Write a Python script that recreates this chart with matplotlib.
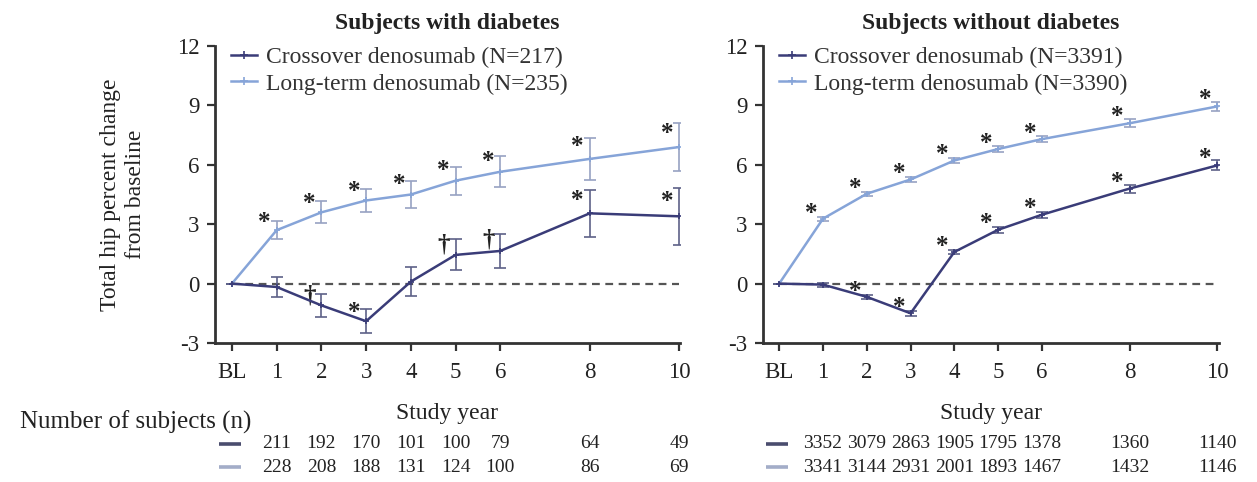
import numpy as np
import matplotlib
matplotlib.use('Agg')
import matplotlib.pyplot as plt
import matplotlib.transforms as mtransforms
from matplotlib.lines import Line2D

plt.rcParams['font.family'] = ['Liberation Serif', 'DejaVu Serif']
plt.rcParams['axes.unicode_minus'] = False

# study years (BL = 0)
years = [0, 1, 2, 3, 4, 5, 6, 8, 10]
year_labels = ['BL', '1', '2', '3', '4', '5', '6', '8', '10']

# subjects with diabetes
dm_cross = [0, -0.17, -1.1, -1.9, 0.1, 1.45, 1.65, 3.55, 3.4]
dm_cross_err = [0, 0.5, 0.6, 0.6, 0.75, 0.78, 0.85, 1.2, 1.45]
dm_cross_sig = ['', '', '†', '*', '', '†', '†', '*', '*']
dm_long = [0, 2.7, 3.6, 4.2, 4.5, 5.2, 5.65, 6.3, 6.9]
dm_long_err = [0, 0.45, 0.55, 0.6, 0.7, 0.7, 0.78, 1.05, 1.2]
dm_long_sig = ['', '*', '*', '*', '*', '*', '*', '*', '*']
dm_n_cross = ['211', '192', '170', '101', '100', '79', '64', '49']
dm_n_long = ['228', '208', '188', '131', '124', '100', '86', '69']

# subjects without diabetes
nd_cross = [0, -0.05, -0.67, -1.5, 1.6, 2.72, 3.48, 4.8, 5.97]
nd_cross_err = [0, 0.1, 0.1, 0.12, 0.12, 0.14, 0.15, 0.2, 0.25]
nd_cross_sig = ['', '', '*', '*', '*', '*', '*', '*', '*']
nd_long = [0, 3.28, 4.54, 5.26, 6.22, 6.8, 7.3, 8.1, 8.95]
nd_long_err = [0, 0.1, 0.1, 0.12, 0.12, 0.14, 0.15, 0.2, 0.25]
nd_long_sig = ['', '*', '*', '*', '*', '*', '*', '*', '*']
nd_n_cross = ['3352', '3079', '2863', '1905', '1795', '1378', '1360', '1140']
nd_n_long = ['3341', '3144', '2931', '2001', '1893', '1467', '1432', '1146']

c_cross = '#3a3c78'
c_long = '#86a4d8'
c_axis = '#333333'
c_text = '#222222'

fig = plt.figure(figsize=(12.57, 4.82), dpi=100)
ax1 = fig.add_axes([0.171, 0.2884, 0.370, 0.616])
ax2 = fig.add_axes([0.607, 0.2884, 0.363, 0.616])


def panel(ax, title, cross, cross_err, cross_sig, long, long_err, long_sig,
          n_cross, n_long, N_cross, N_long, xlim):
    ax.hlines(0, years[0], years[-1], colors='#555555', linestyles=(0, (3.5, 2.5)),
              linewidth=1.6, zorder=1)
    ax.errorbar(years, long, yerr=long_err, color=c_long, ecolor='#97a2c2',
                elinewidth=1.2, capsize=4, capthick=1.2, lw=1.8,
                marker='+', ms=5, mew=1.2, zorder=3)
    ax.errorbar(years, cross, yerr=cross_err, color=c_cross, ecolor='#5d6188',
                elinewidth=1.2, capsize=4, capthick=1.2, lw=1.8,
                marker='+', ms=5, mew=1.2, zorder=4)
    for x, m, e, s in zip(years, long, long_err, long_sig):
        if s:
            ax.text(x - 0.27, m + 0.25 + 0.35 * e, s, ha='center', va='center',
                    fontsize=18, color=c_text, fontweight='bold')
    for x, m, e, s in zip(years, cross, cross_err, cross_sig):
        if s:
            ax.text(x - 0.27, m + 0.25 + 0.35 * e, s, ha='center', va='center',
                    fontsize=18, color=c_text, fontweight='bold')

    ax.set_xlim(*xlim)
    ax.set_ylim(-3, 12)
    ax.set_yticks([-3, 0, 3, 6, 9, 12])
    ax.set_xticks(years)
    ax.set_xticklabels(year_labels)
    for sp in ['top', 'right']:
        ax.spines[sp].set_visible(False)
    for sp in ['left', 'bottom']:
        ax.spines[sp].set_linewidth(2)
        ax.spines[sp].set_color(c_axis)
    ax.tick_params(axis='x', pad=8)
    ax.tick_params(axis='y', pad=5)
    ax.tick_params(axis='both', direction='out', length=6, width=1.6,
                   color=c_axis, labelsize=16.5, labelcolor=c_text)
    ax.set_title(title, fontsize=17, fontweight='bold', color=c_text, pad=12)
    ax.set_xlabel('Study year', fontsize=17, color=c_text, labelpad=14)

    handles = [Line2D([], [], color=c_cross, lw=1.8, marker='+', ms=6, mew=1.2),
               Line2D([], [], color=c_long, lw=1.8, marker='+', ms=6, mew=1.2)]
    labels = [f'Crossover denosumab (N={N_cross})', f'Long-term denosumab (N={N_long})']
    leg = ax.legend(handles, labels, loc='upper left', bbox_to_anchor=(0.005, 1.045),
                    frameon=False, fontsize=17, handlelength=1.1, handletextpad=0.35,
                    labelspacing=0.2, borderaxespad=0.2)
    for t in leg.get_texts():
        t.set_color('#333333')

    # number of subjects table
    trans = mtransforms.blended_transform_factory(ax.transData, fig.transFigure)
    for ry, vals, col in [(0.079, n_cross, '#4a4d6e'), (0.031, n_long, '#a3adc8')]:
        ax.plot([years[0] - 0.3, years[0] + 0.2], [ry, ry], transform=trans,
                color=col, lw=2.6, clip_on=False, solid_capstyle='butt')
        for x, v in zip(years[1:], vals):
            ax.text(x, ry, v, transform=trans, ha='center', va='center',
                    fontsize=14, color=c_text)


panel(ax1, 'Subjects with diabetes', dm_cross, dm_cross_err, dm_cross_sig,
      dm_long, dm_long_err, dm_long_sig, dm_n_cross, dm_n_long, 217, 235, (-0.38, 10.02))
panel(ax2, 'Subjects without diabetes', nd_cross, nd_cross_err, nd_cross_sig,
      nd_long, nd_long_err, nd_long_sig, nd_n_cross, nd_n_long, 3391, 3390, (-0.37, 10.05))

ax1.set_ylabel('Total hip percent change\nfrom baseline', fontsize=17, color=c_text,
               labelpad=22, linespacing=1.25)
fig.text(0.016, 0.124, 'Number of subjects (n)', fontsize=18, color=c_text,
         ha='left', va='center')

fig.savefig('out.png', dpi=100)
